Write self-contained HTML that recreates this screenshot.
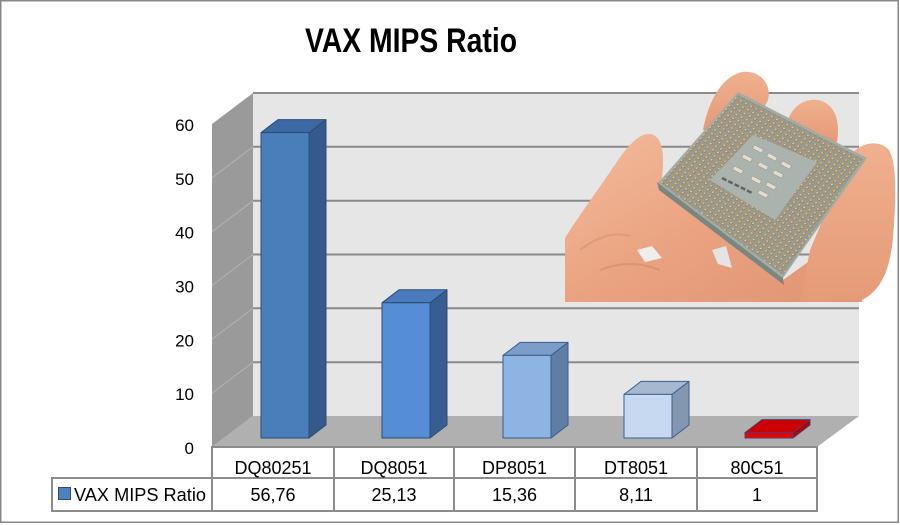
<!DOCTYPE html>
<html><head><meta charset="utf-8"><style>
html,body{margin:0;padding:0;background:#fff;}
svg{display:block;}
text{font-family:"Liberation Sans",Arial,sans-serif;}
</style></head><body>
<svg width="900" height="525" viewBox="0 0 900 525" xmlns="http://www.w3.org/2000/svg">
<defs>
  <linearGradient id="skin" x1="0" y1="0" x2="1" y2="1">
    <stop offset="0" stop-color="#f3bc9c"/>
    <stop offset="0.5" stop-color="#eaa381"/>
    <stop offset="1" stop-color="#e09372"/>
  </linearGradient>
  <linearGradient id="skin2" x1="0" y1="0" x2="0" y2="1">
    <stop offset="0" stop-color="#f0b08e"/>
    <stop offset="1" stop-color="#e59a77"/>
  </linearGradient>
  <pattern id="pins" patternUnits="userSpaceOnUse" width="1" height="1" patternTransform="matrix(5.16 2.64 -3.2 3.64 738 92)">
    <rect x="0" y="0" width="1" height="1" fill="#949d97"/>
    <circle cx="0.5" cy="0.5" r="0.36" fill="#a9875a"/>
    <circle cx="0.42" cy="0.42" r="0.16" fill="#e3d0aa"/>
  </pattern>
</defs>

<!-- outer border -->
<rect x="0.75" y="0.75" width="897.5" height="521.5" fill="#fff" stroke="#878787" stroke-width="1.5"/>

<!-- title -->
<text x="411" y="52" text-anchor="middle" font-weight="bold" font-size="34" textLength="212" lengthAdjust="spacingAndGlyphs" fill="#000">VAX MIPS Ratio</text>

<!-- back wall -->
<rect x="253" y="93" width="606" height="323" fill="#e6e6e6"/>
<g stroke="#8a8a8a" stroke-width="2">
  <line x1="253" y1="93" x2="859" y2="93"/>
  <line x1="253" y1="146.8" x2="859" y2="146.8"/>
  <line x1="253" y1="200.7" x2="859" y2="200.7"/>
  <line x1="253" y1="254.5" x2="859" y2="254.5"/>
  <line x1="253" y1="308.3" x2="859" y2="308.3"/>
  <line x1="253" y1="362.2" x2="859" y2="362.2"/>
</g>
<!-- left wall -->
<polygon points="212,124 253,93 253,416 212,447" fill="#9a9a9a"/>
<g stroke="#b2b2b2" stroke-width="1">
  <line x1="212" y1="177.8" x2="253" y2="146.8"/>
  <line x1="212" y1="231.7" x2="253" y2="200.7"/>
  <line x1="212" y1="285.5" x2="253" y2="254.5"/>
  <line x1="212" y1="339.3" x2="253" y2="308.3"/>
  <line x1="212" y1="393.2" x2="253" y2="362.2"/>
</g>
<!-- floor -->
<polygon points="212,447 253,416 859,416 817,447" fill="#b0b0b0"/>

<!-- y tick labels -->
<g font-size="17" text-anchor="end" fill="#000">
  <text x="194" y="131">60</text>
  <text x="194" y="184.8">50</text>
  <text x="194" y="238.7">40</text>
  <text x="194" y="292.5">30</text>
  <text x="194" y="346.3">20</text>
  <text x="194" y="400.2">10</text>
  <text x="194" y="454">0</text>
</g>

<!-- bars -->
<g stroke-width="1" stroke-linejoin="round">
  <g stroke="#2c4d75">
    <polygon points="309,132.6 326,119.6 326,425 309,438" fill="#34598a"/>
    <polygon points="261,132.6 278,119.6 326,119.6 309,132.6" fill="#3c69a3"/>
    <rect x="261" y="132.6" width="48" height="305.4" fill="#4a7ebb"/>
  </g>
  <g stroke="#2c4d75">
    <polygon points="430,302.8 447,289.8 447,425 430,438" fill="#375d91"/>
    <polygon points="382,302.8 399,289.8 447,289.8 430,302.8" fill="#4a7cbd"/>
    <rect x="382" y="302.8" width="48" height="135.2" fill="#558ed5"/>
  </g>
  <g stroke="#385d8a">
    <polygon points="551,355.4 568,342.4 568,425 551,438" fill="#5f7ea6"/>
    <polygon points="503,355.4 520,342.4 568,342.4 551,355.4" fill="#7b9dca"/>
    <rect x="503" y="355.4" width="48" height="82.6" fill="#8db4e2"/>
  </g>
  <g stroke="#3c5f8c">
    <polygon points="672,394.4 689,381.4 689,425 672,438" fill="#8497b0"/>
    <polygon points="624,394.4 641,381.4 689,381.4 672,394.4" fill="#a6b8d0"/>
    <rect x="624" y="394.4" width="48" height="43.6" fill="#c6d9f1"/>
  </g>
  <g stroke="#4a3f7a">
    <polygon points="793,432.6 810,419.6 810,425 793,438" fill="#b00000"/>
    <polygon points="745,432.6 762,419.6 810,419.6 793,432.6" fill="#cc0000"/>
    <rect x="745" y="432.6" width="48" height="5.4" fill="#ee0000"/>
  </g>
</g>

<!-- photo: hand holding CPU -->
<g>
  <path d="M565,302 L565,238 C580,214 598,190 614,166 C626,148 638,133 650,134 C664,136 665,158 661,184 L700,215 L783,280 L850,232 L862,302 Z" fill="url(#skin)"/>
  <path d="M848,160 C856,143 878,138 889,150 C897,163 896,200 893,238 C890,268 882,290 862,300 L800,302 L810,250 Z" fill="url(#skin2)"/>
  <path d="M703,130 C708,102 722,76 742,72 C760,70 772,84 768,100 L760,115 L720,130 Z" fill="url(#skin2)"/>
  <path d="M786,128 C789,108 803,98 818,100 C833,103 841,118 837,142 L805,142 Z" fill="url(#skin2)"/>
  <path d="M600,270 C620,262 640,262 660,270" stroke="#cf8a68" stroke-width="2" fill="none" opacity="0.6"/>
  <path d="M580,250 C600,235 615,232 630,236" stroke="#d48e6c" stroke-width="2" fill="none" opacity="0.5"/>
  <path d="M637,250 L652,246 L662,258 L645,262 Z" fill="#eeeeee"/>
  <path d="M712,250 L726,246 L732,268 L718,264 Z" fill="#e4e4e4"/>
  <!-- chip thickness edge -->
  <polygon points="657,182 783,278 784,285 659,190" fill="#7c8680"/>
  <!-- chip -->
  <polygon points="738,92 867,158 783,278 658,183" fill="#a2aca6"/>
  <path d="M738,95 L863,159 L783,275 L661,183 Z M753,135 L817,162 L775,220 L710,180 Z" fill="url(#pins)" fill-rule="evenodd"/>
  <polygon points="753,135 817,162 775,220 710,180" fill="#aab3ae"/>
  <g fill="#e3ddd0" stroke="#9a9486" stroke-width="0.5">
    <rect x="-5" y="-2" width="10" height="4" transform="translate(758,149) rotate(27)"/>
    <rect x="-5" y="-2" width="10" height="4" transform="translate(772,157) rotate(27)"/>
    <rect x="-5" y="-2" width="10" height="4" transform="translate(786,165) rotate(27)"/>
    <rect x="-5" y="-2" width="10" height="4" transform="translate(747,158) rotate(27)"/>
    <rect x="-5" y="-2" width="10" height="4" transform="translate(763,166) rotate(27)"/>
    <rect x="-5" y="-2" width="10" height="4" transform="translate(778,174) rotate(27)"/>
    <rect x="-5" y="-2" width="10" height="4" transform="translate(738,170) rotate(27)"/>
    <rect x="-5" y="-2" width="10" height="4" transform="translate(756,180) rotate(27)"/>
    <rect x="-5" y="-2" width="10" height="4" transform="translate(771,186) rotate(27)"/>
    <rect x="-5" y="-2" width="10" height="4" transform="translate(763,194) rotate(27)"/>
  </g>
  <path d="M722,178 L752,193" stroke="#5e6660" stroke-width="2.5" stroke-dasharray="5,2"/>
</g>

<!-- data table -->
<g stroke="#8c8c8c" stroke-width="2" fill="none">
  <rect x="212" y="447" width="605" height="64"/>
  <line x1="212" y1="478" x2="817" y2="478"/>
  <line x1="334" y1="447" x2="334" y2="511"/>
  <line x1="454" y1="447" x2="454" y2="511"/>
  <line x1="575" y1="447" x2="575" y2="511"/>
  <line x1="697" y1="447" x2="697" y2="511"/>
  <rect x="52" y="478" width="160" height="33"/>
</g>
<g font-size="18" text-anchor="middle" fill="#000">
  <text x="273" y="474">DQ80251</text>
  <text x="394" y="474">DQ8051</text>
  <text x="514.5" y="474">DP8051</text>
  <text x="636" y="474">DT8051</text>
  <text x="757" y="474">80C51</text>
  <text x="273" y="501">56,76</text>
  <text x="394" y="501">25,13</text>
  <text x="514.5" y="501">15,36</text>
  <text x="636" y="501">8,11</text>
  <text x="757" y="501">1</text>
</g>
<rect x="58.5" y="487.5" width="12" height="12" fill="#4f81bd" stroke="#2c4d75" stroke-width="1"/>
<text x="74" y="501" font-size="18" fill="#000" textLength="132" lengthAdjust="spacingAndGlyphs">VAX MIPS Ratio</text>
</svg>
</body></html>
